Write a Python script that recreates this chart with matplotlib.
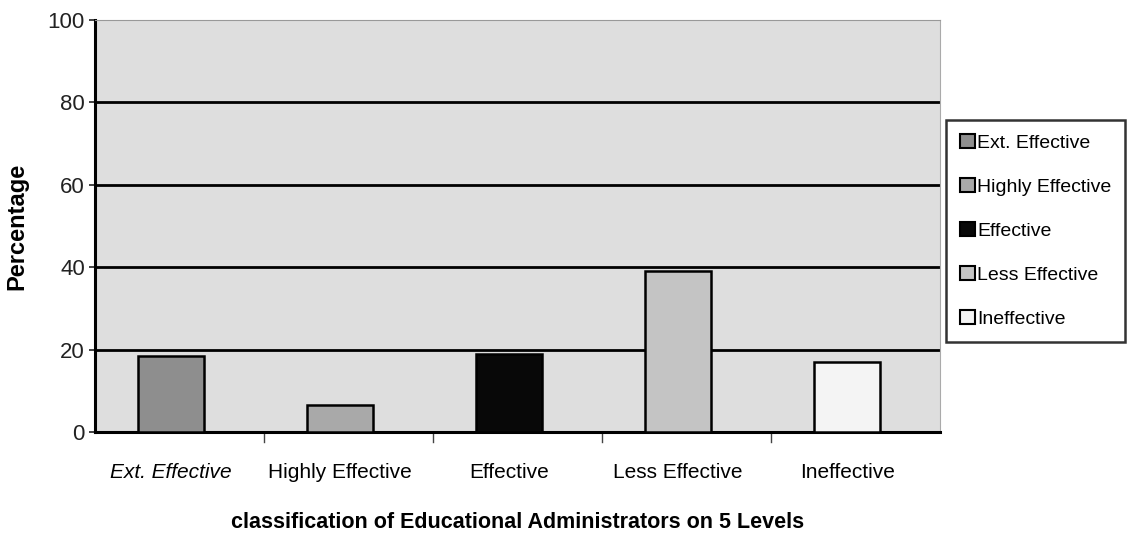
import matplotlib

matplotlib.use("Agg")
import matplotlib.pyplot as plt
from matplotlib.patches import Patch
import numpy as np

plt.rcParams["font.family"] = ["Liberation Sans", "DejaVu Sans"]

CATEGORIES = ["Ext. Effective", "Highly Effective", "Effective", "Less Effective", "Ineffective"]
PERCENTAGES = [18.5, 6.5, 19, 39, 17]
BAR_COLORS = ["#8e8e8e", "#a9a9a9", "#080808", "#c4c4c4", "#f4f4f4"]
Y_TICKS = [0, 20, 40, 60, 80, 100]


def main() -> None:
    fig = plt.figure(figsize=(11.41, 5.4), dpi=100)
    ax = fig.add_axes([0.083, 0.2, 0.741, 0.763])
    ax.set_facecolor("#dedede")

    x = np.arange(len(CATEGORIES))
    ax.bar(x - 0.05, PERCENTAGES, width=0.39, color=BAR_COLORS, edgecolor="black",
           linewidth=1.8, zorder=3)

    ax.set_xlim(-0.5, len(CATEGORIES) - 0.5)
    ax.set_ylim(0, 100)
    ax.set_yticks(Y_TICKS)
    ax.tick_params(axis="y", labelsize=16, length=4, width=1.2, colors="#222222", pad=3)
    for y in Y_TICKS[1:-1]:
        ax.axhline(y, color="black", linewidth=2, zorder=2)

    # category labels centred, tick marks on the boundaries
    ax.set_xticks(x - 0.05)
    ax.set_xticklabels(CATEGORIES, fontsize=15)
    ax.tick_params(axis="x", length=0, pad=22)
    ax.get_xticklabels()[0].set_style("italic")
    for b in np.arange(0.5, len(CATEGORIES) - 0.5, 1):
        ax.plot([b, b], [0, -2.5], color="#444444", linewidth=1, clip_on=False)

    for side in ("left", "bottom"):
        ax.spines[side].set_linewidth(2.2)
    ax.spines["top"].set_color("#999999")
    ax.spines["right"].set_color("#aaaaaa")

    ax.set_xlabel("classification of Educational Administrators on 5 Levels",
                  fontsize=15.5, fontweight="bold", labelpad=22)
    ax.set_ylabel("Percentage", fontsize=17, fontweight="bold", labelpad=14)

    handles = [Patch(facecolor=c, edgecolor="black", linewidth=1.5) for c in BAR_COLORS]
    leg = fig.legend(handles, CATEGORIES, loc="upper left",
                     bbox_to_anchor=(0.826, 0.785), fontsize=14,
                     frameon=True, fancybox=False, edgecolor="black",
                     handlelength=0.75, handleheight=0.75, handletextpad=0.12,
                     labelspacing=1.35, borderpad=0.7, borderaxespad=0.2)
    leg.get_frame().set_linewidth(1.8)

    fig.savefig("out.png", dpi=100, facecolor="white")
    plt.close(fig)


if __name__ == "__main__":
    main()
